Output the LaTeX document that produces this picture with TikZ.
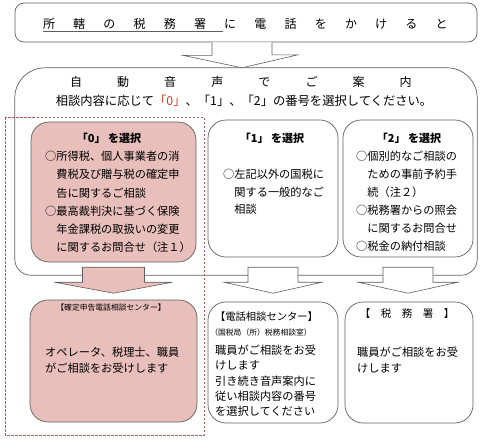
\documentclass[tikz,border=0pt]{standalone}
\usepackage{fontspec}
\setmainfont{Noto Sans CJK JP}
\usetikzlibrary{calc}
\definecolor{edge}{HTML}{5E5E5E}
\definecolor{pinkf}{HTML}{E8BFBA}
\definecolor{dashc}{HTML}{B05A5A}
\definecolor{redtxt}{HTML}{E3341F}
\tikzset{
  frame/.style={draw=edge,line width=0.7pt},
  choice/.style={frame,rounded corners=18pt,inner sep=0},
  pick/.style={font=\bfseries\fontsize{11}{13}\selectfont,inner sep=0},
  body/.style={font=\fontsize{11.2}{#1}\selectfont,align=left,anchor=north west,inner sep=0},
  tiny/.style={font=\fontsize{7.8}{9}\selectfont,inner sep=0},
  barrow/.style={draw=edge,line width=0.6pt,line join=miter},
  spaced/.style={font=\fontsize{12}{14}\selectfont,inner sep=0},
}

\begin{document}
\begin{tikzpicture}[x=1pt,y=-1pt]
  \useasboundingbox (0,0) rectangle (481,440);
  % phone call
  \node[frame,rounded corners=9pt,minimum width=462,minimum height=39] (call) at (246,22.5) {};
  \foreach \c [count=\i from 0] in {所,轄,の,税,務,署,に,電,話,を,か,け,る,と}
    \node[spaced] (t\i) at (49+30.2*\i,24) {\c};
  \draw[edge,line width=0.6pt] ($(t0.south west)+(0,1.5)$) -- ($(t0.south west -| t6.west)+(-1,1.5)$);
  % voice guidance
  \node[minimum width=462,minimum height=207,inner sep=0] (big) at (246,171.5) {};
  \draw[frame] (big.south) [rounded corners=16pt] -| (big.west) [rounded corners=30pt] |- (big.north) -| (big.east) [rounded corners=16pt] |- (big.south);
  \draw[barrow,fill=white] ($(call.south)+(-34,0)$) -- ++(0,13) -- ++(-29,0) -- ($(big.north)+(-4,0)$) -- ++(56,-13) -- ++(-26,0) -- ($(call.south)+(26,0)$);
  \foreach \c [count=\i from 0] in {自,動,音,声,で,ご,案,内}
    \node[spaced] (g\i) at (76+47.1*\i,82) {\c};
  \node[font=\fontsize{12.3}{14}\selectfont,inner sep=0] (hint) at (244,101) {相談内容に応じて\textcolor{redtxt}{「0」}、「1」、「2」の番号を選択してください。};
  \draw[dashc,line width=0.7pt,dash pattern=on 2.5pt off 1.5pt] (5,117) rectangle (204,435);
  % choices
  \node[choice,fill=pinkf,minimum width=165,minimum height=140] (c0) at (113.5,192) {};
  \node[choice,minimum width=130,minimum height=137] (c1) at (273,188.5) {};
  \node[choice,minimum width=130,minimum height=137] (c2) at (408,188.5) {};
  \foreach \b/\s/\h/\f in {c0/31/59/pinkf,c1/25/49/white,c2/25/50/white}
    \draw[barrow,fill=\f] ($(\b.south |- big.south)+(-\s,-8)$) -- ++(0,15) -- ++(\s-\h,0) -- ($(\b.south |- big.south)+(0,18)$) -- ++(\h,-11) -- ++(\s-\h,0) -- ++(0,-15) -- cycle;
  \node[pick] (p0) at (109,138.5) {「0」 を選択};
  \node[pick] (p1) at (272,138.5) {「1」 を選択};
  \node[pick] (p2) at (409,138.5) {「2」 を選択};
  \node[body=18.2] (b0) at (45,151) {○所得税、個人事業者の消\\　費税及び贈与税の確定申\\　告に関するご相談\\○最高裁判決に基づく保険\\　年金課税の取扱いの変更\\　に関するお問合せ（注１）};
  \node[body=17.5] (b1) at (223,169) {○左記以外の国税に\\　関する一般的なご\\　相談};
  \node[body=18] (b2) at (356,151) {○個別的なご相談の\\　ための事前予約手\\　続（注２）\\○税務署からの照会\\　に関するお問合せ\\○税金の納付相談};
  % where the call goes
  \node[choice,fill=pinkf,minimum width=167,minimum height=122] (d0) at (113.5,361) {};
  \node[choice,minimum width=130,minimum height=121] (d1) at (273,362.5) {};
  \node[choice,minimum width=128,minimum height=121] (d2) at (409,362.5) {};
  \node[tiny] (h0) at (111,308) {【確定申告電話相談センター】};
  \node[body=16] (e0) at (45,347) {オペレータ、税理士、職員\\がご相談をお受けします};
  \node[font=\fontsize{10.3}{12}\selectfont,inner sep=0] (h1) at (266.5,317) {【電話相談センター】};
  \node[tiny] (s1) at (261,333) {（国税局（所）税務相談室）};
  \node[body=15.2] (e1) at (215,345) {職員がご相談をお受\\けします\\引き続き音声案内に\\従い相談内容の番号\\を選択してください};
  \node[font=\fontsize{10.5}{12}\selectfont,inner sep=0] (h2) at (407,313) {【　税　務　署　】};
  \node[body=16] (e2) at (357,347) {職員がご相談をお受\\けします};
\end{tikzpicture}
\end{document}
